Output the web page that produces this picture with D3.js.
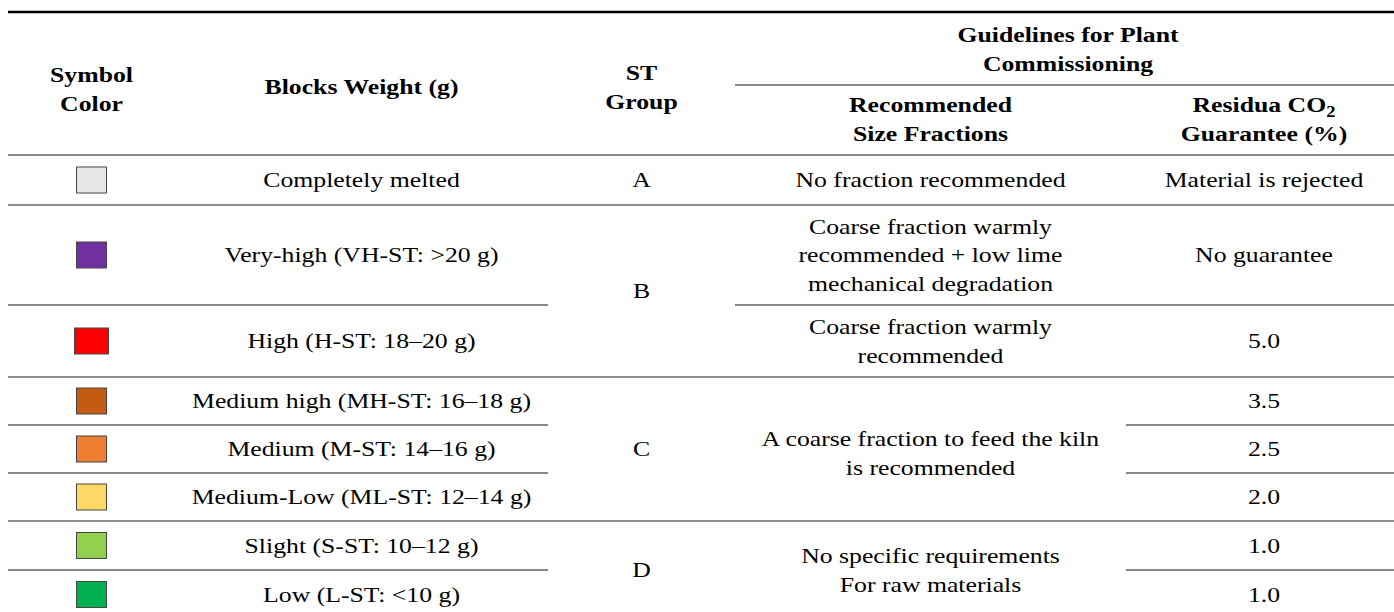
<!DOCTYPE html>
<html>
<head>
<meta charset="utf-8">
<script src="https://cdn.jsdelivr.net/npm/d3@7"></script>
<style>
  html, body { margin: 0; padding: 0; background: #fff; }
  svg { display: block; }
</style>
</head>
<body>
<svg id="chart" width="1394" height="612"></svg>
<script>
// ---------------- DATA ----------------
const symbolColors = ["#E7E6E6", "#7030A0", "#FF0000", "#C55A11", "#ED7D31", "#FFD966", "#92D050", "#00B050"];
const blocksWeight = [
  "Completely melted",
  "Very-high (VH-ST: >20 g)",
  "High (H-ST: 18–20 g)",
  "Medium high (MH-ST: 16–18 g)",
  "Medium (M-ST: 14–16 g)",
  "Medium-Low (ML-ST: 12–14 g)",
  "Slight (S-ST: 10–12 g)",
  "Low (L-ST: <10 g)"
];
const stGroups = ["A", "B", "B", "C", "C", "C", "D", "D"];
const sizeFractions = [
  "No fraction recommended",
  "Coarse fraction warmly|recommended + low lime|mechanical degradation",
  "Coarse fraction warmly|recommended",
  "A coarse fraction to feed the kiln|is recommended",
  "A coarse fraction to feed the kiln|is recommended",
  "A coarse fraction to feed the kiln|is recommended",
  "No specific requirements|For raw materials",
  "No specific requirements|For raw materials"
];
const residuaCO2 = ["Material is rejected", "No guarantee", "5.0", "3.5", "2.5", "2.0", "1.0", "1.0"];
const headerLabels = ["Symbol|Color", "Blocks Weight (g)", "ST|Group", "Recommended|Size Fractions", "Residua CO₂|Guarantee (%)"];
const superHeader = "Guidelines for Plant|Commissioning";

// ---------------- LAYOUT ----------------
const colEdges = [8, 175, 548, 735, 1126, 1394];
const rowHeights = [50, 100, 72, 48, 48, 48, 49, 49];
const headerTop = 12, headerSplit = 85, headerBottom = 155;
const FONT = "'Palatino Linotype','Book Antiqua',Palatino,'Liberation Serif','Times New Roman',serif";
const FS = 22, SX = 1.17, LH = 28.5;
const mergeCols = [false, false, true, true, false];

const svg = d3.select("#chart");

const rowEdges = [headerBottom];
rowHeights.forEach(h => rowEdges.push(rowEdges[rowEdges.length - 1] + h));
const nRows = symbolColors.length;
const rowTop = i => rowEdges[i];
const colCenters = [91.5, 361.5, 641.5, 930.5, 1264];

// multi-line text helper
function drawText(g, x, cy, str, bold) {
  const lines = str.split("|");
  const t = g.append("g")
    .attr("transform", `translate(${x},${cy}) scale(${SX},1)`)
    .append("text")
    .attr("text-anchor", "middle")
    .attr("font-family", FONT)
    .attr("font-size", FS)
    .attr("font-weight", bold ? "bold" : "normal")
    .attr("fill", "#000");
  lines.forEach((ln, k) => {
    const dyv = (k - (lines.length - 1) / 2) * LH + FS * 0.34;
    const ts = t.append("tspan").attr("x", 0).attr("y", dyv);
    const m = ln.match(/^(.*)CO₂(.*)$/);
    if (m) {
      ts.text(m[1] + "CO");
      t.append("tspan").attr("dy", 5).attr("font-size", FS * 0.72).text("2");
      t.append("tspan").attr("dy", -5).text(m[2]);
    } else {
      ts.text(ln);
    }
  });
}

// merge consecutive equal values into spans (optionally)
function spans(arr, merge) {
  const out = [];
  arr.forEach((v, i) => {
    const last = out[out.length - 1];
    if (merge && last && last.value === v) last.end = i;
    else out.push({ value: v, start: i, end: i });
  });
  return out;
}

// ---------------- HEADER ----------------
const hg = svg.append("g");
drawText(hg, colCenters[0], 89, headerLabels[0], true);
drawText(hg, colCenters[1], 87, headerLabels[1], true);
drawText(hg, colCenters[2], 87, headerLabels[2], true);
drawText(hg, 1068, 49, superHeader, true);
drawText(hg, colCenters[3], 119, headerLabels[3], true);
drawText(hg, colCenters[4], 119, headerLabels[4], true);

// ---------------- BODY ----------------
const bg = svg.append("g");
bg.selectAll("rect.sw").data(symbolColors).join("rect")
  .attr("class", "sw")
  .attr("x", d => colCenters[0] - (d === "#FF0000" ? 17 : 15))
  .attr("width", d => d === "#FF0000" ? 34 : 30)
  .attr("y", (d, i) => (rowTop(i) + rowTop(i + 1)) / 2 - 13)
  .attr("height", 26)
  .attr("fill", d => d)
  .attr("stroke", "#444")
  .attr("stroke-width", 1);

const columns = [symbolColors, blocksWeight, stGroups, sizeFractions, residuaCO2];
[1, 2, 3, 4].forEach(c => {
  spans(columns[c], mergeCols[c]).forEach(s => {
    const extra = (c === 3 && s.end > s.start && s.value.startsWith("A coarse")) ? 4 : 0;
    drawText(bg, colCenters[c], (rowTop(s.start) + rowTop(s.end + 1)) / 2 + extra, s.value, false);
  });
});

// ---------------- RULES ----------------
const lg = svg.append("g");
lg.append("line").attr("x1", colEdges[0]).attr("x2", colEdges[5])
  .attr("y1", headerTop).attr("y2", headerTop).attr("stroke", "#000").attr("stroke-width", 2.5);
lg.append("line").attr("x1", colEdges[3]).attr("x2", colEdges[5])
  .attr("y1", headerSplit).attr("y2", headerSplit).attr("stroke", "#111").attr("stroke-width", 1);
lg.append("line").attr("x1", colEdges[0]).attr("x2", colEdges[5])
  .attr("y1", headerBottom).attr("y2", headerBottom).attr("stroke", "#666").attr("stroke-width", 1.6);

for (let i = 0; i < nRows - 1; i++) {
  const yy = rowTop(i + 1);
  const groupChange = stGroups[i] !== stGroups[i + 1];
  if (groupChange) {
    lg.append("line").attr("x1", colEdges[0]).attr("x2", colEdges[5])
      .attr("y1", yy).attr("y2", yy).attr("stroke", "#6a6a6a").attr("stroke-width", 1.6);
    continue;
  }
  for (let c = 0; c < 5; c++) {
    const differs = !mergeCols[c] || columns[c][i] !== columns[c][i + 1];
    if (!differs) continue;
    lg.append("line").attr("x1", colEdges[c]).attr("x2", colEdges[c + 1])
      .attr("y1", yy).attr("y2", yy).attr("stroke", "#111").attr("stroke-width", 1);
  }
}
</script>
</body>
</html>
